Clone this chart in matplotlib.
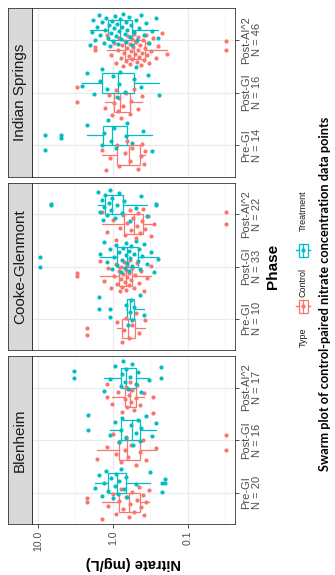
import numpy as np
import matplotlib
matplotlib.use("Agg")
import matplotlib.pyplot as plt
from matplotlib import cbook
from matplotlib.patches import Rectangle

plt.rcParams['font.family'] = ['Liberation Sans', 'DejaVu Sans']

W, H = 335, 575

phases = ["Pre-GI", "Post-GI", "Post-AI^2"]
sites = ["Indian Springs", "Cooke-Glenmont", "Blenheim"]

# nitrate (mg/L)
blen_pre_ctrl = [0.33, 0.36, 0.38, 0.40, 0.42, 0.45, 0.48, 0.52, 0.56, 0.59,
                 0.62, 0.68, 0.74, 0.79, 0.82, 0.90, 1.0, 1.15, 1.4, 2.2]
blen_pre_trt = [0.2, 0.22, 0.32, 0.5, 0.64, 0.68, 0.72, 0.78, 0.82, 0.86,
                0.9, 0.95, 1.0, 1.05, 1.15, 1.22, 1.3, 1.4, 1.55, 1.75]
blen_gi_ctrl = [0.031, 0.27, 0.36, 0.4, 0.44, 0.5, 0.58, 0.63, 0.66, 0.7,
                0.78, 0.82, 0.9, 1.0, 1.2, 1.64]
blen_gi_trt = [0.27, 0.3, 0.36, 0.42, 0.44, 0.47, 0.5, 0.54, 0.58, 0.66,
               0.75, 0.78, 0.82, 0.95, 1.09, 2.15]
blen_ai_ctrl = [0.29, 0.39, 0.44, 0.48, 0.5, 0.53, 0.55, 0.57, 0.59, 0.62,
                0.65, 0.68, 0.7, 0.75, 0.85, 1.02, 1.2]
blen_ai_trt = [0.23, 0.33, 0.42, 0.47, 0.5, 0.56, 0.6, 0.63, 0.66, 0.7,
               0.73, 0.76, 0.78, 0.95, 1.1, 1.3, 3.3]

cook_pre_ctrl = [0.37, 0.45, 0.5, 0.55, 0.62, 0.66, 0.72, 0.76, 0.88, 2.2]
cook_pre_trt = [0.39, 0.43, 0.52, 0.55, 0.58, 0.6, 0.63, 0.66, 1.1, 1.55]
cook_gi_ctrl = [0.31, 0.35, 0.38, 0.42, 0.45, 0.48, 0.51, 0.53, 0.555, 0.57,
                0.59, 0.61, 0.62, 0.64, 0.65, 0.67, 0.68, 0.7, 0.71, 0.73,
                0.75, 0.77, 0.79, 0.81, 0.84, 0.88, 0.92, 0.98, 1.05, 1.15,
                1.3, 1.48, 3.0]
cook_gi_trt = [0.25, 0.28, 0.31, 0.35, 0.38, 0.41, 0.43, 0.45, 0.47, 0.5,
               0.53, 0.55, 0.57, 0.59, 0.61, 0.62, 0.64, 0.66, 0.68, 0.7,
               0.73, 0.76, 0.79, 0.83, 0.87, 0.92, 0.97, 1.03, 1.1, 1.2,
               1.32, 1.48, 9.5]
cook_ai_ctrl = [0.031, 0.28, 0.31, 0.34, 0.37, 0.4, 0.41, 0.43, 0.46, 0.48,
                0.5, 0.54, 0.57, 0.6, 0.65, 0.7, 0.73, 0.8, 0.9, 1.0,
                1.2, 1.38]
cook_ai_trt = [0.27, 0.355, 0.42, 0.5, 0.6, 0.72, 0.76, 0.82, 0.88, 0.95,
               1.02, 1.06, 1.1, 1.14, 1.2, 1.26, 1.3, 1.35, 1.42, 1.5,
               1.58, 6.6]

ind_pre_ctrl = [0.37, 0.39, 0.41, 0.42, 0.46, 0.55, 0.6, 0.64, 0.7, 0.84,
                0.88, 1.1, 1.25, 1.41]
ind_pre_trt = [0.3, 0.4, 0.55, 0.64, 0.68, 0.9, 0.98, 1.06, 1.15, 1.3,
               1.4, 2.24, 5.0, 8.1]
ind_gi_ctrl = [0.41, 0.46, 0.52, 0.57, 0.6, 0.66, 0.74, 0.78, 0.82, 0.86,
               0.92, 0.97, 1.02, 1.12, 1.27, 3.05]
ind_gi_trt = [0.24, 0.34, 0.42, 0.5, 0.53, 0.7, 0.8, 0.84, 0.89, 1.0,
              1.2, 1.38, 1.5, 1.8, 2.2, 2.6]
ind_ai_ctrl = [0.031, 0.19, 0.22, 0.25, 0.27, 0.29, 0.31, 0.33, 0.34, 0.35,
               0.365, 0.375, 0.385, 0.4, 0.41, 0.42, 0.435, 0.45, 0.46, 0.47,
               0.48, 0.5, 0.51, 0.53, 0.54, 0.55, 0.565, 0.58, 0.59, 0.6,
               0.62, 0.635, 0.65, 0.67, 0.69, 0.71, 0.73, 0.76, 0.79, 0.82,
               0.86, 0.9, 0.96, 1.05, 1.2, 1.74]
ind_ai_trt = [0.25, 0.27, 0.3, 0.33, 0.36, 0.39, 0.42, 0.45, 0.48, 0.5,
              0.53, 0.555, 0.575, 0.6, 0.62, 0.64, 0.66, 0.68, 0.7, 0.73,
              0.76, 0.78, 0.8, 0.82, 0.85, 0.88, 0.9, 0.93, 0.96, 0.99,
              1.02, 1.06, 1.1, 1.14, 1.18, 1.22, 1.27, 1.33, 1.4, 1.47,
              1.55, 1.63, 1.72, 1.82, 1.92, 2.03]

site_data = {
    "Blenheim": [(blen_pre_ctrl, blen_pre_trt), (blen_gi_ctrl, blen_gi_trt), (blen_ai_ctrl, blen_ai_trt)],
    "Cooke-Glenmont": [(cook_pre_ctrl, cook_pre_trt), (cook_gi_ctrl, cook_gi_trt), (cook_ai_ctrl, cook_ai_trt)],
    "Indian Springs": [(ind_pre_ctrl, ind_pre_trt), (ind_gi_ctrl, ind_gi_trt), (ind_ai_ctrl, ind_ai_trt)],
}

ctrl_col = '#F8766D'
trt_col = '#00BFC4'
grey20 = '#333333'
grey30 = '#4D4D4D'


def frac(a, b, c, d):
    # pixel box -> figure fraction
    return [a / W, 1 - d / H, (c - a) / W, (d - b) / H]


def jitter(n, seed):
    return np.array([(((i + 1) * 0.6180339887 + seed) % 1.0 - 0.5) * 0.62 for i in range(n)])


def draw_group(ax, vals, pos, col, seed):
    v = np.array(vals)
    st = cbook.boxplot_stats(np.log10(v), whis=1.5)[0]
    for k in ['med', 'q1', 'q3', 'whislo', 'whishi', 'mean']:
        st[k] = 10 ** st[k]
    st['fliers'] = 10 ** np.asarray(st['fliers'])
    ax.bxp([st], positions=[pos], widths=0.375, orientation='horizontal',
           showcaps=False, patch_artist=True, manage_ticks=False, zorder=2,
           boxprops=dict(facecolor='white', edgecolor=col, lw=0.9),
           whiskerprops=dict(color=col, lw=0.9),
           medianprops=dict(color=col, lw=0.9),
           flierprops=dict(marker='o', markerfacecolor=col, markeredgecolor='none', markersize=3.0))
    ax.scatter(v, pos + jitter(len(v), seed), s=9, color=col, linewidths=0, zorder=3)


fig = plt.figure(figsize=(W / 100, H / 100), dpi=100)

rows = {"Indian Springs": (8, 177), "Cooke-Glenmont": (183, 350), "Blenheim": (356, 524)}

for si, site in enumerate(sites):
    y0, y1 = rows[site]
    ax = fig.add_axes(frac(32, y0, 235, y1))
    ax.set_xscale('log')
    ax.set_xlim(12.0, 0.0236)
    ax.set_ylim(0.4, 3.6)
    ax.set_axisbelow(True)

    labels = []
    for pi, ph in enumerate(phases):
        ctrl, trt = site_data[site][pi]
        draw_group(ax, ctrl, pi + 1 - 0.1875, ctrl_col, 0.13 * si + 0.07 * pi)
        draw_group(ax, trt, pi + 1 + 0.1875, trt_col, 0.29 * si + 0.11 * pi + 0.4)
        labels.append(f"{ph}\nN = {len(ctrl)}")

    ax.set_xticks([10, 1, 0.1])
    ax.set_xticks([10 ** 0.5, 10 ** -0.5, 10 ** -1.5], minor=True)
    ax.grid(True, which='major', color='#EBEBEB', lw=0.9)
    ax.grid(True, which='minor', axis='x', color='#F2F2F2', lw=0.5)
    ax.tick_params(axis='x', which='minor', length=0, labelbottom=False)

    ax.yaxis.tick_right()
    ax.set_yticks([1, 2, 3])
    ax.set_yticklabels(labels, rotation=90, va='center', ha='left',
                       multialignment='center', fontsize=8, color=grey30, linespacing=1.0)
    ax.tick_params(axis='y', length=2.75, color=grey20, width=0.6, pad=2)

    if site == "Blenheim":
        ax.set_xticklabels(['10.0', '1.0', '0.1'], rotation=90, fontsize=7.5, color=grey30)
        ax.tick_params(axis='x', which='major', length=2.75, color=grey20, width=0.6, pad=2)
    else:
        ax.tick_params(axis='x', which='major', length=0, labelbottom=False)

    for sp in ax.spines.values():
        sp.set_color(grey20)
        sp.set_linewidth(0.6)

    # facet strip
    sx = fig.add_axes(frac(8, y0, 32, y1))
    sx.set_facecolor('#D9D9D9')
    sx.set_xticks([])
    sx.set_yticks([])
    for sp in sx.spines.values():
        sp.set_color(grey20)
        sp.set_linewidth(0.6)
    sx.text(0.5, 0.5, site, rotation=90, ha='center', va='center',
            fontsize=11, color='#1A1A1A', transform=sx.transAxes)

# axis titles
fig.text(133 / W, 1 - 563 / H, "Nitrate (mg/L)", rotation=180, ha='center', va='center',
         fontsize=10.5, fontweight='bold')
fig.text(273 / W, 1 - 266 / H, "Phase", rotation=90, ha='center', va='center',
         fontsize=11, fontweight='bold')

# legend
lg = fig.add_axes(frac(288, 185, 318, 360))
lg.set_xlim(288, 318)
lg.set_ylim(360, 185)
lg.axis('off')
lg.text(303, 337, "Type", rotation=90, ha='center', va='center', fontsize=6.5, color='#1A1A1A')
for col, yc, name, yt in [(ctrl_col, 306, "Control", 282), (trt_col, 250, "Treatment", 211)]:
    lg.plot([296, 310], [yc, yc], color=col, lw=0.9)
    lg.add_patch(Rectangle((298.5, yc - 6.5), 9, 13, facecolor='white', edgecolor=col, lw=0.9, zorder=2))
    lg.plot([303, 303], [yc - 6.5, yc + 6.5], color=col, lw=0.9, zorder=3)
    lg.plot([296, 298.5], [yc, yc], color=col, lw=0.9)
    lg.plot([307.5, 310], [yc, yc], color=col, lw=0.9)
    lg.scatter([303], [yc], s=9, color=col, linewidths=0, zorder=4)
    lg.text(303, yt, name, rotation=90, ha='center', va='center', fontsize=6.5, color='#1A1A1A')

fig.text(325 / W, 1 - 294 / H, "Swarm plot of control-paired nitrate concentration data points",
         rotation=90, ha='center', va='center', fontsize=9.2, fontweight='bold',
         family=['Lato', 'DejaVu Sans'])

fig.savefig("out.png", dpi=100)
